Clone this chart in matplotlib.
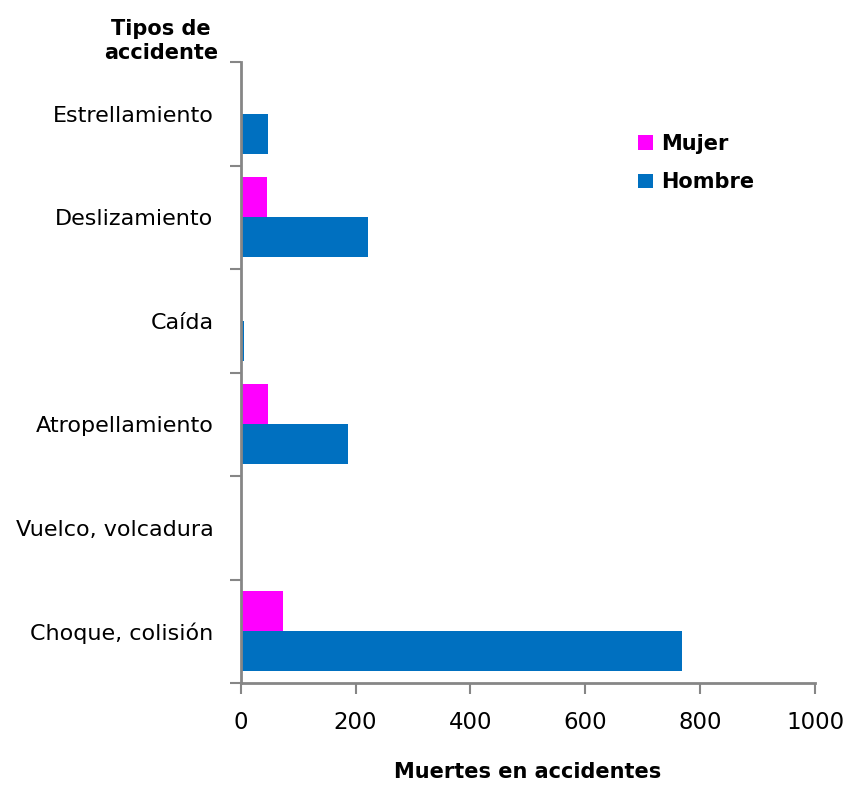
import matplotlib
matplotlib.use("Agg")
import matplotlib.pyplot as plt
import numpy as np

categories = ["Choque, colisión", "Vuelco, volcadura", "Atropellamiento", "Caída", "Deslizamiento", "Estrellamiento"]
mujer = [73, 1, 48, 0, 45, 1]
hombre = [769, 1, 187, 5, 222, 48]
xticks = [0, 200, 400, 600, 800, 1000]

plt.rcParams['font.family'] = ['DejaVu Sans']

fig = plt.figure(figsize=(8.46, 7.87), dpi=100)
ax = fig.add_axes([240.7/846, 1-683/787, (815-240.7)/846, (683-62)/787])

y = np.arange(len(categories))
h = 0.386
ax.barh(y - h/2, hombre, height=h, color="#0070C0", label="Hombre", edgecolor="none")
ax.barh(y + h/2, mujer, height=h, color="#FF00FF", label="Mujer", edgecolor="none")

ax.set_xlim(0, 1000)
ax.set_ylim(-0.5, len(categories) - 0.5)
ax.set_xticks(xticks)
ax.set_xticklabels([str(v) for v in xticks], fontsize=16.5)
ax.set_yticks(y)
ax.set_yticklabels(categories, fontsize=16)
ax.set_yticks(np.arange(-0.5, len(categories), 1), minor=True)
ax.tick_params(axis='y', which='major', length=0, pad=19.5)
ax.tick_params(axis='y', which='minor', length=8, width=1.5, color="#868686")
ax.tick_params(axis='x', which='major', length=8, width=1.5, color="#868686", pad=12)

for s in ['top', 'right']:
    ax.spines[s].set_visible(False)
for s in ['left', 'bottom']:
    ax.spines[s].set_color("#868686")
    ax.spines[s].set_linewidth(2)

ax.set_xlabel("Muertes en accidentes", fontsize=15, fontweight='bold', labelpad=20)
fig.text(161/846, 1-41/787, "Tipos de\naccidente", fontsize=15, fontweight='bold',
         ha='center', va='center', linespacing=1.2)

handles, labels = ax.get_legend_handles_labels()
leg = ax.legend(handles[::-1], labels[::-1], loc='upper left', bbox_to_anchor=(0.66, 0.915),
                frameon=False, prop={'size': 15, 'weight': 'bold'},
                handlelength=0.7, handleheight=0.7, handletextpad=0.4, labelspacing=0.9)

fig.savefig("out.png", dpi=100)
